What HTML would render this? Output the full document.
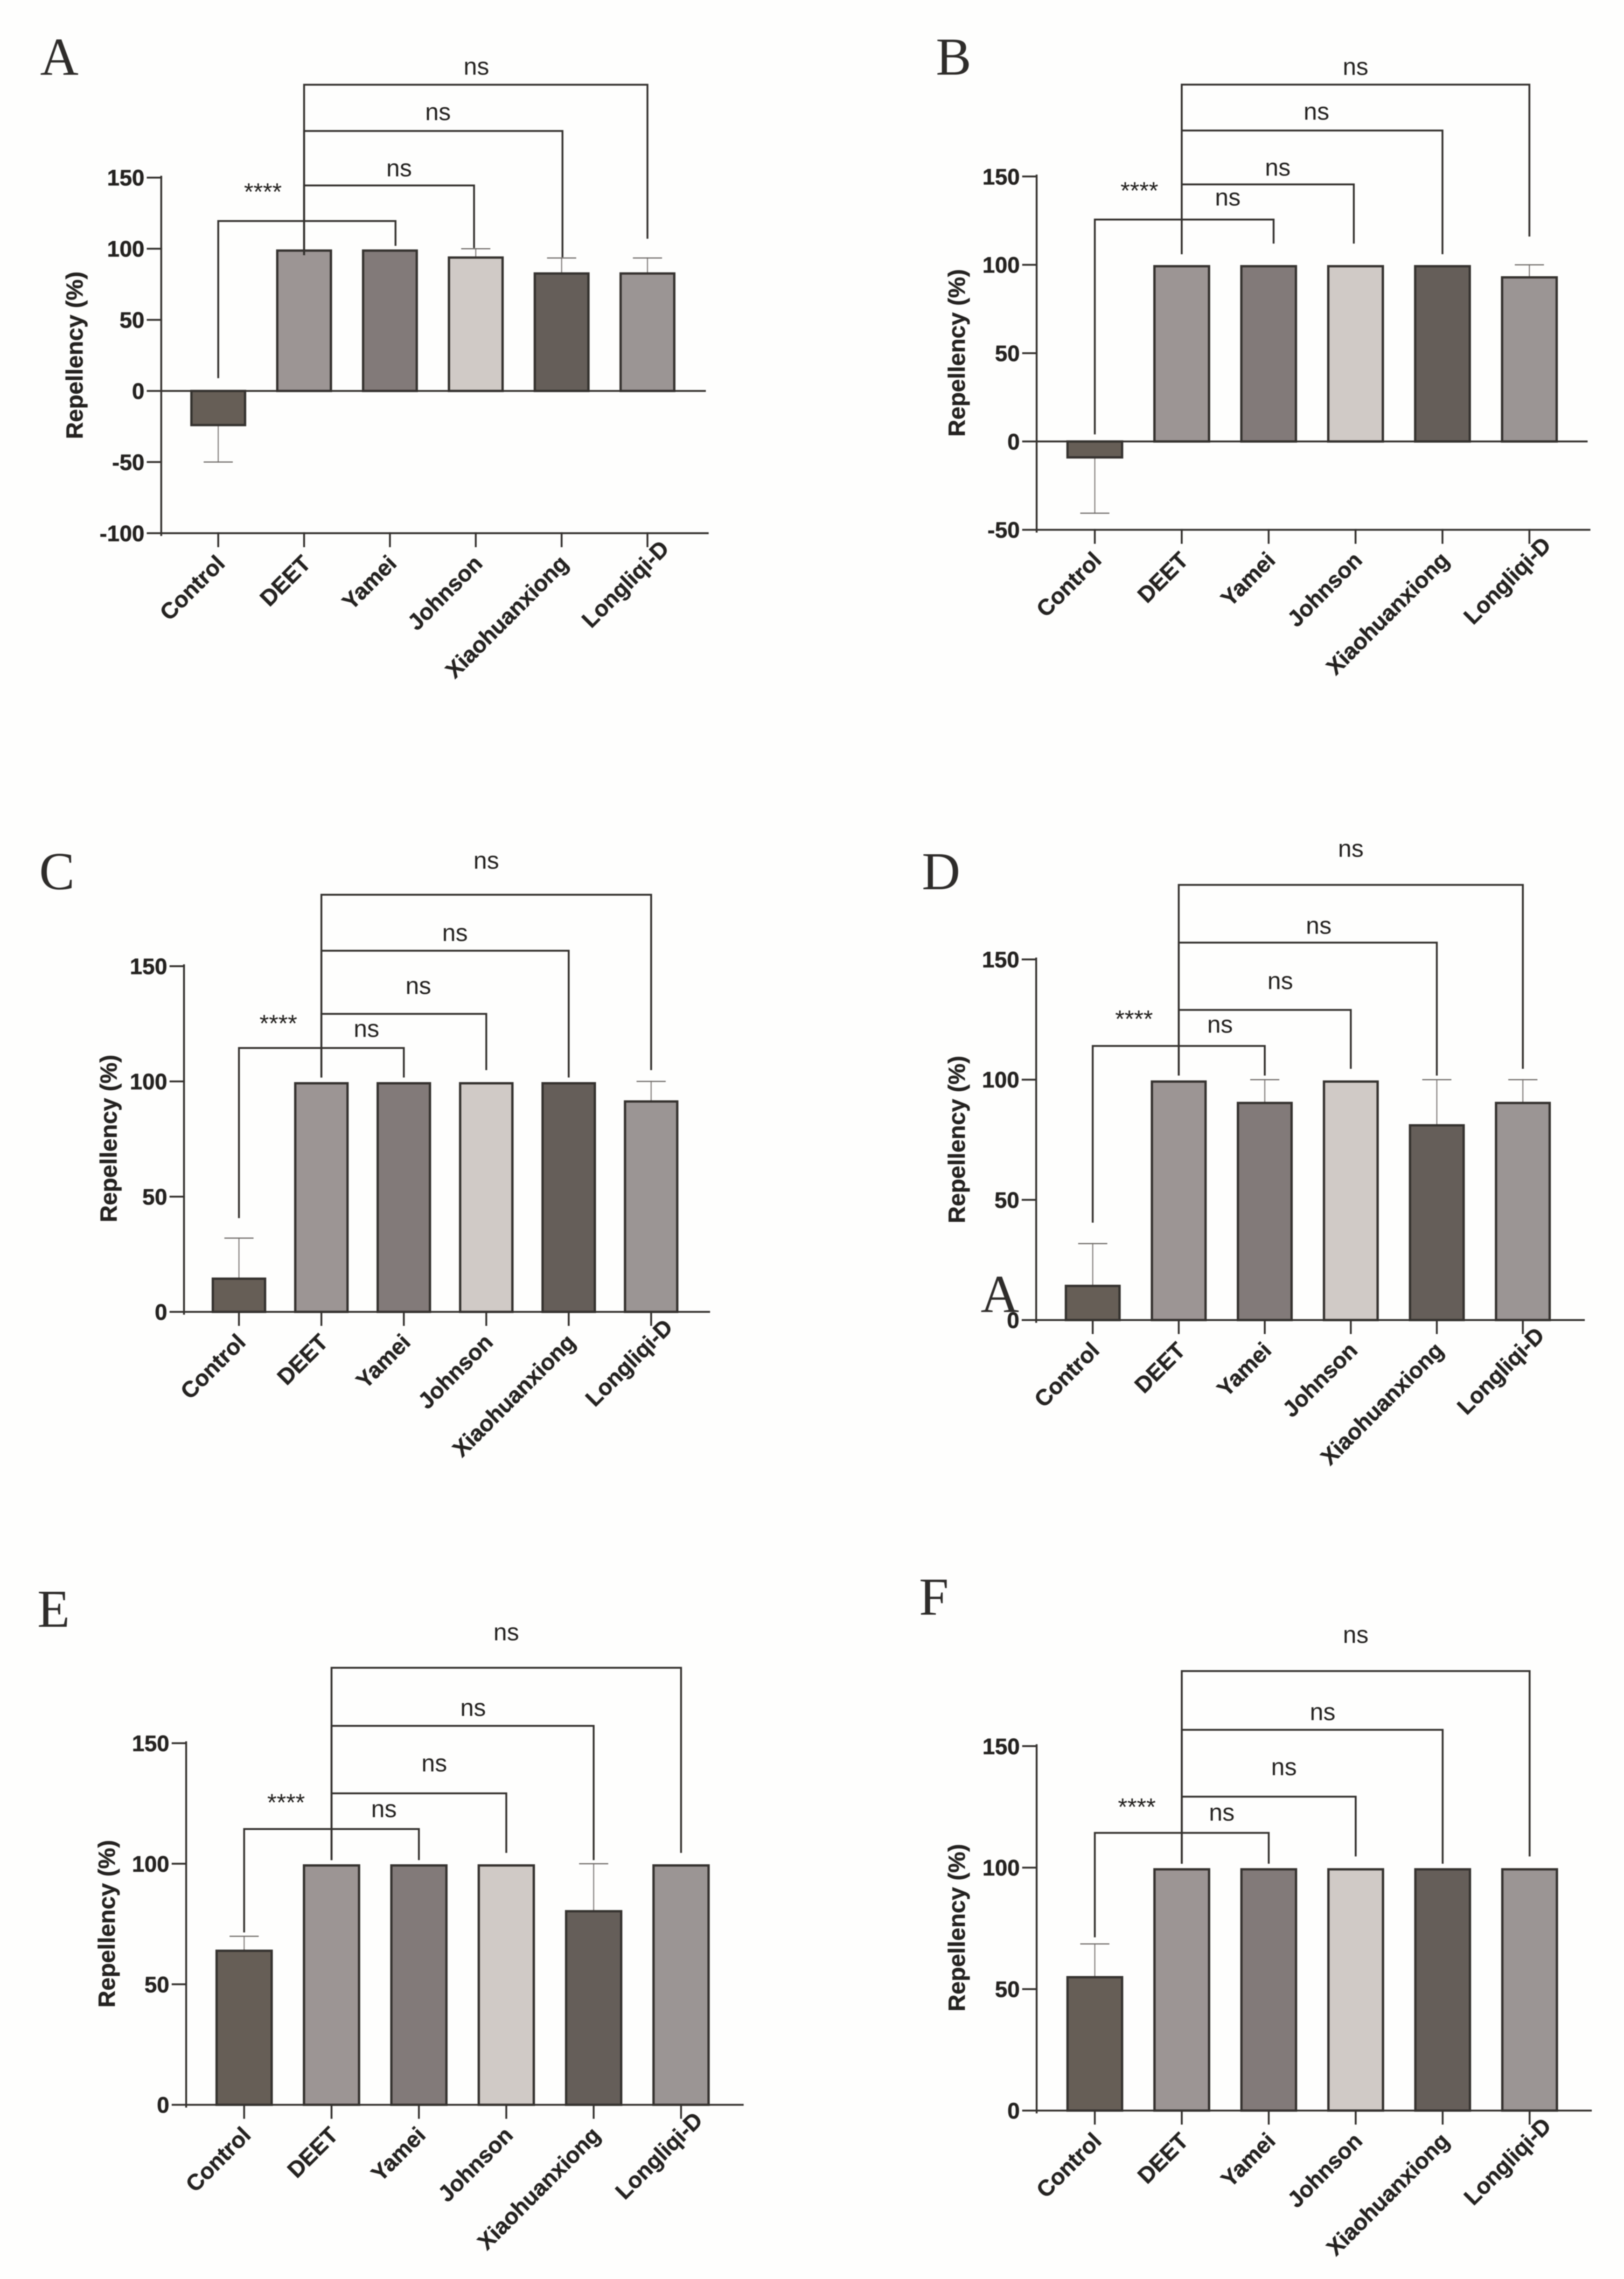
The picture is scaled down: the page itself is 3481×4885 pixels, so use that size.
<!DOCTYPE html>
<html lang="en">
<head>
<meta charset="utf-8">
<title>Repellency of mosquito repellents, panels A–F</title>
<style>
html,body{margin:0;padding:0;background:#fefefd;}
svg{display:block;filter:blur(1px);}
text{font-family:"Liberation Sans",sans-serif;fill:#242220;}
.tick{font-weight:700;font-size:48px;text-anchor:end;stroke:#242220;stroke-width:.6px;}
.cat{font-weight:700;font-size:48.5px;text-anchor:end;stroke:#242220;stroke-width:.6px;}
.title{font-weight:700;font-size:50.5px;text-anchor:middle;stroke:#242220;stroke-width:.6px;}
.note{font-size:52px;text-anchor:middle;}
.letter{font-family:"Liberation Serif",serif;font-size:114px;fill:#2e2c2a;}
</style>
</head>
<body>
<svg id="figure" xmlns="http://www.w3.org/2000/svg" width="3481" height="4885" viewBox="0 0 3481 4885">
<rect x="0" y="0" width="3481" height="4885" fill="#fefefd"/>
</svg>
<script>
const categories = ['Control', 'DEET', 'Yamei', 'Johnson', 'Xiaohuanxiong', 'Longliqi-D'];

const ticksA = [-100, -50, 0, 50, 100, 150];
const valuesA = [-24, 98.7, 98.7, 93.8, 82.6, 82.6];
const errorEndsA = [-50, null, null, 100, 93.5, 93.5];
const bracketsA = [[0, 2.065, 119.5, 9, 102], [1, 2.98, 144.5, 95.5, 100.5], [1, 4.01, 182.8, 95.5, 94], [1, 5, 215.3, 95.5, 107]];
const notesA = [['ns', 3.007, 228], ['ns', 2.56, 196], ['ns', 2.107, 156.4], ['****', 0.52, 142]];

const ticksB = [-50, 0, 50, 100, 150];
const valuesB = [-9, 99.2, 99.2, 99.2, 99.2, 92.9];
const errorEndsB = [-40.6, null, null, null, null, 100];
const bracketsB = [[0, 2.057, 125.6, 4, 112], [1, 2.98, 145.5, 106, 112], [1, 4, 176, 106, 106], [1, 5, 202, 106, 116]];
const notesB = [['ns', 3, 212], ['ns', 2.55, 186.6], ['ns', 2.105, 155], ['ns', 1.53, 138], ['****', 0.513, 143.6]];

const ticksC = [0, 50, 100, 150];
const valuesC = [14.4, 99.2, 99.2, 99.2, 99.2, 91.3];
const errorEndsC = [32, null, null, null, null, 100];
const bracketsC = [[0, 2, 114.5, 40.7, 101.7], [1, 3, 129.3, 101.7, 104.9], [1, 4, 156.7, 101.7, 101.7], [1, 5, 181, 101.7, 104.9]];
const notesC = [['ns', 3, 195.7], ['ns', 2.62, 164.4], ['ns', 2.176, 141.4], ['ns', 1.547, 122.8], ['****', 0.478, 126.4]];

const ticksD = [0, 50, 100, 150];
const valuesD = [14.2, 99.2, 90.3, 99.2, 81, 90.3];
const errorEndsD = [31.8, null, 100, null, 100, 100];
const bracketsD = [[0, 2, 114, 40.5, 101.7], [1, 3, 129, 101.7, 104.5], [1, 4, 157, 101.7, 101.7], [1, 5, 181, 101.7, 104.5]];
const notesD = [['ns', 3, 196], ['ns', 2.627, 164], ['ns', 2.18, 141], ['ns', 1.48, 122.8], ['****', 0.48, 126.4]];

const ticksE = [0, 50, 100, 150];
const valuesE = [63.9, 99.3, 99.3, 99.3, 80.3, 99.3];
const errorEndsE = [69.9, null, null, null, 100, null];
const bracketsE = [[0, 2, 114.4, 71.5, 101.5], [1, 3, 129.2, 101.5, 104.5], [1, 4, 157.2, 101.5, 101.5], [1, 5, 181.3, 101.5, 104.5]];
const notesE = [['ns', 3, 196], ['ns', 2.62, 164.6], ['ns', 2.176, 141.6], ['ns', 1.6, 122.6], ['****', 0.48, 126.6]];

const ticksF = [0, 50, 100, 150];
const valuesF = [54.9, 99.3, 99.3, 99.3, 99.3, 99.3];
const errorEndsF = [68.6, null, null, null, null, null];
const bracketsF = [[0, 2, 114.3, 71.3, 101.6], [1, 3, 129.2, 101.6, 104.6], [1, 4, 156.7, 101.6, 101.6], [1, 5, 180.9, 101.6, 104.6]];
const notesF = [['ns', 3, 195.8], ['ns', 2.62, 164], ['ns', 2.175, 141.3], ['ns', 1.46, 122.6], ['****', 0.483, 126.2]];

const barFills = ['#665e56', '#9c9594', '#827a79', '#d0cac6', '#655e59', '#9b9594'];
const INK = '#35322f';
const svg = document.getElementById('figure');
const NS = 'http://www.w3.org/2000/svg';

function mk(parent, tag, attrs, txt) {
  const el = document.createElementNS(NS, tag);
  for (const k in attrs) el.setAttribute(k, attrs[k]);
  if (txt !== undefined) el.textContent = txt;
  parent.appendChild(el);
  return el;
}
function seg(parent, x1, y1, x2, y2, w, color) {
  return mk(parent, 'line', {x1: x1, y1: y1, x2: x2, y2: y2, stroke: color || INK, 'stroke-width': w, 'stroke-linecap': 'square'});
}

function drawPanel(id, layout, ticks, values, errorEnds, brackets, notes) {
  const y = v => layout.zeroY - v * layout.unit;
  const x = i => layout.firstX + i * layout.step;
  const minV = ticks[0];
  const maxV = ticks[ticks.length - 1];
  const axisY = y(minV);

  const g = mk(svg, 'g', {});
  
  

  const letter = mk(g, 'text', {class: 'letter', x: layout.letterX, y: layout.letterY}, id);
  
  

  const title = mk(g, 'text', {class: 'title', transform: 'translate(' + layout.titleX + ',' + layout.titleY + ') rotate(-90)'}, 'Repellency (%)');
  
  

  categories.forEach((name, i) => {
    if (errorEnds[i] === null) return;
    const err = mk(g, 'g', {});
    
    
    seg(err, x(i), y(values[i]), x(i), y(errorEnds[i]), 2.5, '#8a8683');
    seg(err, x(i) - 30, y(errorEnds[i]), x(i) + 30, y(errorEnds[i]), 2.5, '#6f6b68');
  });

  categories.forEach((name, i) => {
    const top = Math.min(y(values[i]), y(0));
    const h = Math.abs(y(values[i]) - y(0));
    const bar = mk(g, 'rect', {x: x(i) - layout.barW / 2, y: top, width: layout.barW, height: h, fill: barFills[i], stroke: INK, 'stroke-width': 5});
    
    
  });

  const yAxis = seg(g, layout.axisX, y(maxV) - 2, layout.axisX, axisY + 4, 4);
  
  
  const xAxis = seg(g, layout.axisX, axisY, layout.right, axisY, 4);
  
  
  if (minV < 0) {
    const zero = seg(g, layout.axisX, y(0), layout.right - 6, y(0), 4);
    
    
  }

  ticks.forEach(t => {
    const mark = seg(g, layout.axisX - 29, y(t), layout.axisX, y(t), 4);
    
    
    const label = mk(g, 'text', {class: 'tick', x: layout.axisX - 36, y: y(t) + 17}, String(t));
    
    
  });

  categories.forEach((name, i) => {
    const mark = seg(g, x(i), axisY, x(i), axisY + 28, 4);
    
    
    const nudge = i === categories.length - 1 ? 32 : 0;
    const label = mk(g, 'text', {class: 'cat', transform: 'translate(' + (x(i) + 17 + nudge) + ',' + (axisY + 68 - nudge) + ') rotate(-45)'}, name);
    
    
  });

  brackets.forEach(b => {
    const line = mk(g, 'polyline', {points: x(b[0]) + ',' + y(b[3]) + ' ' + x(b[0]) + ',' + y(b[2]) + ' ' + x(b[1]) + ',' + y(b[2]) + ' ' + x(b[1]) + ',' + y(b[4]), fill: 'none', stroke: INK, 'stroke-width': 4});
    
    
  });

  notes.forEach(n => {
    const isStars = n[0] === '****';
    const note = mk(g, 'text', {class: 'note', x: x(n[1]), y: y(n[2]) + (isStars ? 24 : 17)}, n[0]);
    
    
  });
}

drawPanel('A', {axisX: 345.6, zeroY: 838, unit: 3.0485, firstX: 467.8, step: 184, barW: 115, right: 1517, titleX: 177, titleY: 761.6, letterX: 86, letterY: 160}, ticksA, valuesA, errorEndsA, bracketsA, notesA);
drawPanel('B', {axisX: 2222, zeroY: 946.3, unit: 3.787, firstX: 2346.7, step: 186.3, barW: 117, right: 3407, titleX: 2068, titleY: 756.4, letterX: 2006, letterY: 160}, ticksB, valuesB, errorEndsB, bracketsB, notesB);
drawPanel('C', {axisX: 394.4, zeroY: 2812, unit: 4.94, firstX: 512.2, step: 176.7, barW: 112, right: 1520, titleX: 250, titleY: 2440.4, letterX: 84, letterY: 1906}, ticksC, valuesC, errorEndsC, bracketsC, notesC);
drawPanel('D', {axisX: 2221, zeroY: 2829.5, unit: 5.153, firstX: 2342.2, step: 184.4, barW: 115, right: 3395, titleX: 2068, titleY: 2442.5, letterX: 1976, letterY: 1906}, ticksD, valuesD, errorEndsD, bracketsD, notesD);
drawPanel('E', {axisX: 399, zeroY: 4511.6, unit: 5.167, firstX: 523.3, step: 187.3, barW: 118, right: 1592, titleX: 246, titleY: 4123.6, letterX: 80, letterY: 3487}, ticksE, valuesE, errorEndsE, bracketsE, notesE);
drawPanel('F', {axisX: 2222, zeroY: 4524, unit: 5.208, firstX: 2346.7, step: 186.4, barW: 117, right: 3410, titleX: 2068, titleY: 4132, letterX: 1970, letterY: 3461}, ticksF, valuesF, errorEndsF, bracketsF, notesF);

const stray = mk(svg, 'text', {class: 'letter', x: 2102, y: 2812}, 'A');


</script>
</body>
</html>
